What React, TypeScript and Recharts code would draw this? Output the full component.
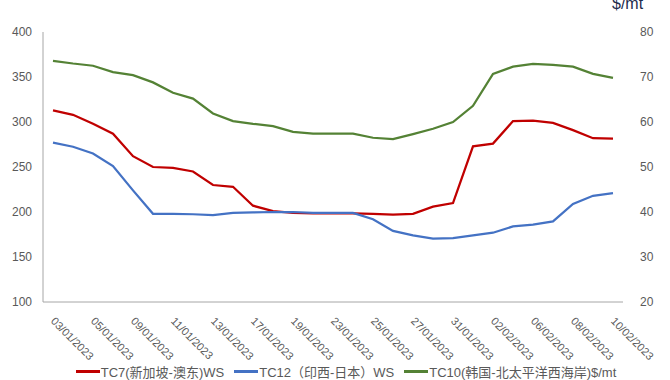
import React from 'react';
import { LineChart, Line, XAxis, YAxis, Legend } from 'recharts';

const dates = [
  '03/01/2023', '04/01/2023', '05/01/2023', '06/01/2023', '09/01/2023', '10/01/2023',
  '11/01/2023', '12/01/2023', '13/01/2023', '16/01/2023', '17/01/2023', '18/01/2023',
  '19/01/2023', '20/01/2023', '23/01/2023', '24/01/2023', '25/01/2023', '26/01/2023',
  '27/01/2023', '30/01/2023', '31/01/2023', '01/02/2023', '02/02/2023', '03/02/2023',
  '06/02/2023', '07/02/2023', '08/02/2023', '09/02/2023', '10/02/2023',
];

// TC7 新加坡-澳东, WS
const tc7 = [
  313, 308, 298, 287, 262, 250, 249, 245, 230, 228, 207, 201, 199, 198.5, 198.5,
  198.5, 198, 197, 198, 206, 210, 273, 276, 301, 301.5, 299, 291, 282, 281.5,
];
// TC12 印西-日本, WS
const tc12 = [
  277, 272.5, 265, 251, 224, 198, 198, 197.5, 196.5, 199, 199.5, 200, 200, 199, 199,
  199, 192, 179, 174, 170.5, 171, 174, 177, 184, 186, 189.5, 209, 218, 221,
];
// TC10 韩国-北太平洋西海岸, $/mt (right axis)
const tc10 = [
  73.6, 73.0, 72.5, 71.1, 70.4, 68.8, 66.5, 65.2, 61.9, 60.2, 59.6, 59.1, 57.8, 57.4, 57.4,
  57.4, 56.5, 56.2, 57.3, 58.5, 60.0, 63.6, 70.7, 72.3, 72.9, 72.7, 72.3, 70.7, 69.8,
];

const leftTicks = [100, 150, 200, 250, 300, 350, 400];
const rightTicks = [20, 30, 40, 50, 60, 70, 80];

const series = [
  { key: 'tc7', name: 'TC7(新加坡-澳东)WS', color: '#C00000', axis: 'left' },
  { key: 'tc12', name: 'TC12（印西-日本）WS', color: '#4472C4', axis: 'left' },
  { key: 'tc10', name: 'TC10(韩国-北太平洋西海岸)$/mt', color: '#548235', axis: 'right' },
];

const data = dates.map((d, i) => ({ date: d, tc7: tc7[i], tc12: tc12[i], tc10: tc10[i] }));

const FONT = "'Liberation Sans', 'Noto Sans CJK SC', sans-serif";
const GREY = '#595959';

const DateTick = (props: any) => {
  const { x, y, payload } = props;
  return (
    <text
      x={x}
      y={y}
      transform={`rotate(45, ${x}, ${y})`}
      textAnchor="start"
      dominantBaseline="central"
      fill={GREY}
      fontSize={11}
      fontFamily={FONT}
    >
      {payload.value}
    </text>
  );
};

const LegendContent = () => (
  <div
    style={{
      display: 'flex',
      justifyContent: 'center',
      gap: 10,
      fontFamily: FONT,
      fontSize: 13,
      color: GREY,
      paddingLeft: 22,
    }}
  >
    {series.map((s) => (
      <div key={s.key} style={{ display: 'flex', alignItems: 'center' }}>
        <span style={{ display: 'inline-block', width: 24, height: 3, background: s.color, marginRight: 1 }} />
        <span>{s.name}</span>
      </div>
    ))}
  </div>
);

export default function App() {
  return (
    <div style={{ position: 'absolute', left: 0, top: 0, width: 670, height: 380, background: '#fff' }}>
      <div
        style={{
          position: 'absolute',
          left: 612,
          top: -5,
          fontFamily: FONT,
          fontSize: 16,
          color: '#1f2d4d',
        }}
      >
        $/mt
      </div>
      <LineChart width={670} height={380} data={data} margin={{ top: 32, right: 0, bottom: 0, left: 0 }}>
        <XAxis
          dataKey="date"
          interval={1}
          tick={<DateTick />}
          tickLine={false}
          tickMargin={11}
          height={60}
          padding={{ left: 10, right: 10 }}
          axisLine={{ stroke: '#a6a6a6' }}
        />
        <YAxis
          yAxisId="left"
          domain={[100, 400]}
          ticks={leftTicks}
          tickLine={false}
          tickMargin={5}
          width={43}
          axisLine={{ stroke: '#a6a6a6' }}
          tick={{ fill: GREY, fontSize: 12, fontFamily: FONT }}
        />
        <YAxis
          yAxisId="right"
          orientation="right"
          domain={[20, 80]}
          ticks={rightTicks}
          tickLine={false}
          tickMargin={11}
          width={47}
          axisLine={false}
          tick={{ fill: GREY, fontSize: 12, fontFamily: FONT, textAnchor: 'start' }}
        />
        <Legend verticalAlign="bottom" height={18} content={<LegendContent />} />
        {series.map((s) => (
          <Line
            key={s.key}
            yAxisId={s.axis}
            type="linear"
            dataKey={s.key}
            name={s.name}
            stroke={s.color}
            strokeWidth={2.25}
            dot={false}
            isAnimationActive={false}
          />
        ))}
      </LineChart>
    </div>
  );
}
